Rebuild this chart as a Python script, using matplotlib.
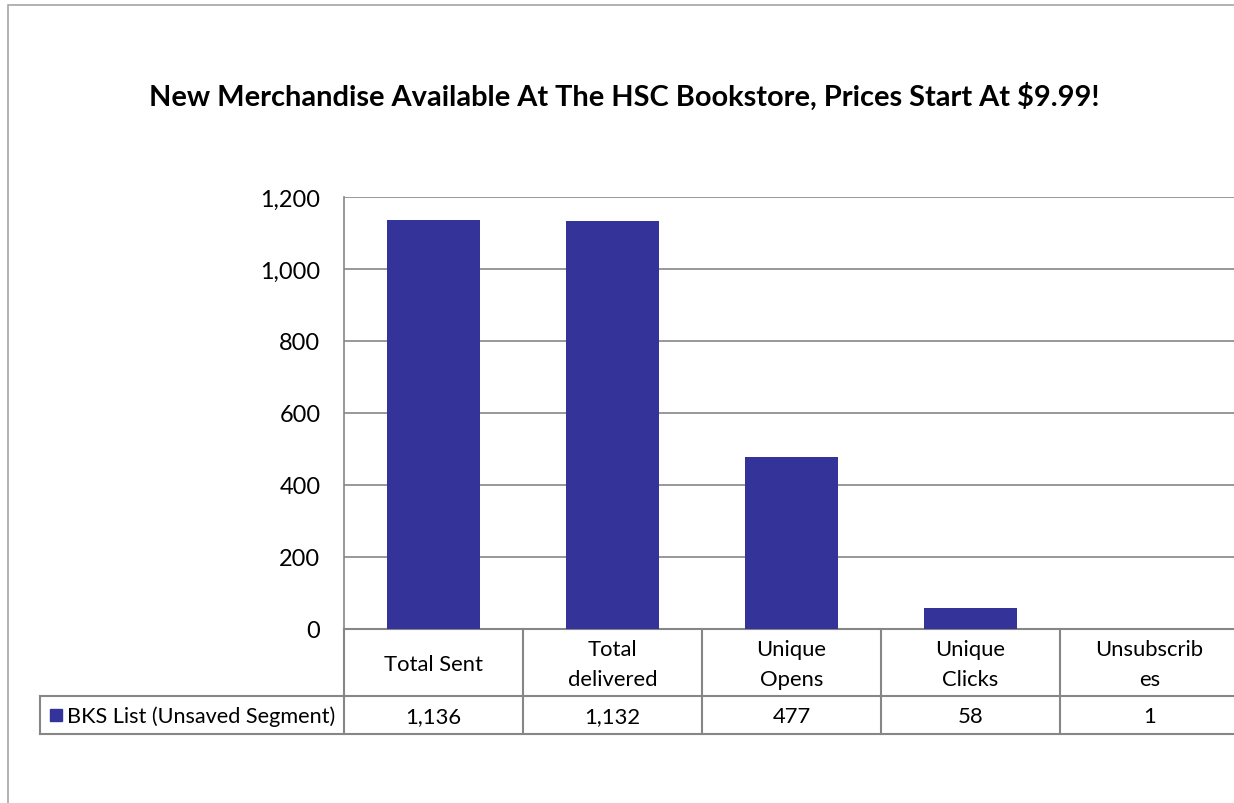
import matplotlib.pyplot as plt
import matplotlib.transforms as mtransforms
from matplotlib.patches import Rectangle
from matplotlib.lines import Line2D

categories = ['Total Sent', 'Total\ndelivered', 'Unique\nOpens', 'Unique\nClicks', 'Unsubscrib\nes']
values = [1136, 1132, 477, 58, 1]
series_name = 'BKS List (Unsaved Segment)'
title = 'New Merchandise Available At The HSC Bookstore, Prices Start At $9.99!'

bar_color = '#333399'
line_color = '#868686'
plt.rcParams['font.family'] = ['Lato', 'DejaVu Sans']

W, H = 1234, 804
fig = plt.figure(figsize=(W / 100, H / 100), dpi=100)

# outer chart border (runs off the right / bottom edge)
fig.add_artist(Rectangle((8 / W, -0.1), 1.2, (798 / H) + 0.1, transform=fig.transFigure,
                         fill=False, edgecolor='#a6a6a6', linewidth=1.2))

left, right, top, bottom = 344, 1239, 198, 630
ax = fig.add_axes([left / W, 1 - bottom / H, (right - left) / W, (bottom - top) / H])

x = list(range(len(categories)))
ax.bar(x, values, width=0.515, color=bar_color, zorder=3)
ax.set_xlim(-0.5, len(categories) - 0.5)
ax.set_ylim(0, 1200)
ax.set_yticks(range(0, 1201, 200))
ax.set_yticklabels([f'{v:,}' for v in range(0, 1201, 200)], fontsize=16.9)
ax.tick_params(axis='y', length=0, pad=17)
ax.tick_params(axis='x', length=0, labelbottom=False)
ax.grid(axis='y', color=line_color, linewidth=1.2, zorder=0)
for s in ['top', 'right', 'bottom']:
    ax.spines[s].set_visible(False)
ax.spines['left'].set_color(line_color)
ax.spines['left'].set_linewidth(1.2)

fig.text(0.5 * (148 + 1101) / W, 1 - 97 / H, title, ha='center', va='center',
         fontsize=20.9, fontweight='bold')

# data table below the plot
blend = mtransforms.blended_transform_factory(ax.transData, ax.transAxes)
ph = bottom - top
y_hdr = (bottom - 697) / ph
y_row = (bottom - 735) / ph
y_left = (40 - left) / (right - left)
lk = dict(color=line_color, linewidth=1.5, clip_on=False)

ax.add_line(Line2D([-0.5, len(categories) - 0.5], [0, 0], transform=blend, **lk))
for i in range(len(categories) + 1):
    ax.add_line(Line2D([i - 0.5, i - 0.5], [0, y_row], transform=blend, **lk))
ax.add_line(Line2D([y_left, 1], [y_hdr, y_hdr], transform=ax.transAxes, **lk))
ax.add_line(Line2D([y_left, 1], [y_row, y_row], transform=ax.transAxes, **lk))
ax.add_line(Line2D([y_left, y_left], [y_hdr, y_row], transform=ax.transAxes, **lk))

for i, (c, v) in enumerate(zip(categories, values)):
    ax.text(i, (bottom - 665) / ph, c, transform=blend, ha='center', va='center',
            fontsize=15.8, linespacing=1.6, clip_on=False)
    ax.text(i, (bottom - 717) / ph, f'{v:,}', transform=blend, ha='center', va='center',
            fontsize=15.8, clip_on=False)

ax.add_patch(Rectangle(((50 - left) / (right - left), (bottom - 722) / ph), 12 / (right - left), 12 / ph,
                       transform=ax.transAxes, color=bar_color, clip_on=False))
ax.text((67 - left) / (right - left), (bottom - 717) / ph, series_name, transform=ax.transAxes,
        ha='left', va='center', fontsize=15.6, clip_on=False)

fig.savefig('out.png', dpi=100)
